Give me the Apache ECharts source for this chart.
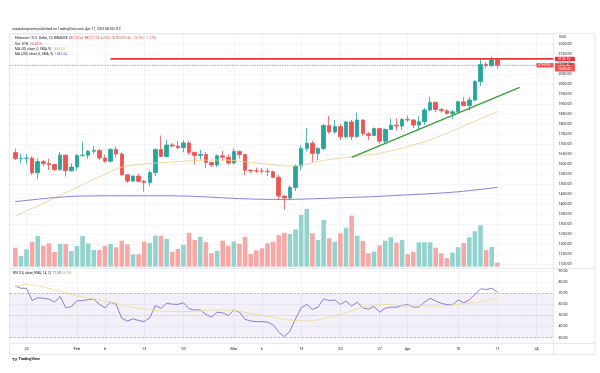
<!DOCTYPE html>
<html><head><meta charset="utf-8">
<script src="https://cdn.jsdelivr.net/npm/echarts@6/dist/echarts.min.js"></script>
<style>html,body{margin:0;padding:0;background:#fff}#c{width:600px;height:373px}</style>
</head><body><div id="c"></div>
<script>
// ---- categories (daily) ----
const dates = ['Jan 20','Jan 21','Jan 22','Jan 23','Jan 24','Jan 25','Jan 26','Jan 27','Jan 28','Jan 29','Jan 30','Jan 31',
'Feb 1','Feb 2','Feb 3','Feb 4','Feb 5','Feb 6','Feb 7','Feb 8','Feb 9','Feb 10','Feb 11','Feb 12','Feb 13','Feb 14','Feb 15','Feb 16','Feb 17','Feb 18','Feb 19','Feb 20','Feb 21','Feb 22','Feb 23','Feb 24','Feb 25','Feb 26','Feb 27','Feb 28',
'Mar 1','Mar 2','Mar 3','Mar 4','Mar 5','Mar 6','Mar 7','Mar 8','Mar 9','Mar 10','Mar 11','Mar 12','Mar 13','Mar 14','Mar 15','Mar 16','Mar 17','Mar 18','Mar 19','Mar 20','Mar 21','Mar 22','Mar 23','Mar 24','Mar 25','Mar 26','Mar 27','Mar 28','Mar 29','Mar 30','Mar 31',
'Apr 1','Apr 2','Apr 3','Apr 4','Apr 5','Apr 6','Apr 7','Apr 8','Apr 9','Apr 10','Apr 11','Apr 12','Apr 13','Apr 14','Apr 15','Apr 16','Apr 17','Apr 18','Apr 19','Apr 20','Apr 21','Apr 22','Apr 23','Apr 24','Apr 25','Apr 26','Apr 27'];
const firstDay = 'Jan 21';
const tickDates  = ['Jan 23','Feb 1','Feb 6','Feb 13','Feb 20','Mar 1','Mar 6','Mar 13','Mar 20','Mar 27','Apr 1','Apr 10','Apr 17','Apr 24'];
const tickLabels = ['23','Feb','6','13','20','Mar','6','13','20','27','Apr','10','17','24'];
const priceTicks = [1100,1150,1200,1250,1300,1350,1400,1450,1500,1550,1600,1650,1700,1750,1800,1850,1900,1950,2000,2050,2100,2150,2200];
const rsiTicks = [30,40,50,60,70,80,90];

// ---- OHLC (Jan 21 .. Apr 17) ----
const open = [1657,1627,1628,1629,1556,1612,1603,1598,1573,1644,
1566,1585,1642,1644,1664,1668,1630,1614,1673,1650,
1546,1515,1540,1514,1507,1557,1673,1638,1695,1690,
1681,1705,1658,1643,1648,1608,1595,1641,1634,1605,
1663,1647,1569,1566,1565,1564,1561,1534,1440,1430,
1482,1590,1678,1704,1653,1678,1792,1760,1787,1736,
1810,1737,1820,1751,1743,1777,1714,1773,1794,1790,
1822,1820,1795,1811,1870,1908,1873,1866,1853,1861,
1911,1892,1920,2012,2098,2092,2120.42];
const close = [1627,1628,1629,1556,1612,1603,1598,1573,1644,1566,
1585,1642,1644,1664,1668,1630,1614,1673,1650,1546,
1515,1540,1514,1507,1557,1673,1638,1695,1690,1681,
1705,1658,1643,1648,1608,1595,1641,1634,1605,1663,
1647,1569,1566,1565,1564,1561,1534,1440,1430,1482,
1590,1678,1704,1653,1678,1792,1760,1787,1736,1810,
1737,1820,1751,1743,1777,1714,1773,1794,1790,1822,
1820,1795,1811,1870,1908,1873,1866,1853,1861,1911,
1892,1920,2012,2098,2092,2120,2093.46];
const high = [1677,1650,1650,1638,1628,1620,1626,1600,1660,1648,
1604,1649,1712,1670,1690,1675,1646,1680,1688,1658,
1550,1543,1552,1520,1568,1678,1742,1720,1705,1716,
1718,1715,1662,1670,1659,1610,1647,1666,1648,1678,
1667,1650,1573,1582,1580,1580,1568,1546,1442,1495,
1598,1695,1780,1716,1685,1800,1840,1820,1800,1815,
1820,1857,1823,1760,1783,1782,1778,1828,1828,1830,
1842,1825,1840,1880,1937,1913,1880,1875,1870,1918,
1935,1935,2020,2125,2110,2137,2121];
const low = [1619,1603,1598,1546,1525,1589,1570,1565,1565,1537,
1562,1567,1637,1625,1650,1620,1606,1607,1632,1540,
1505,1509,1507,1462,1490,1540,1635,1633,1683,1675,
1658,1645,1597,1622,1578,1585,1585,1617,1597,1596,
1626,1545,1555,1555,1552,1540,1530,1420,1370,1418,
1465,1570,1662,1610,1620,1670,1752,1750,1720,1728,
1720,1730,1740,1720,1738,1703,1700,1770,1767,1770,
1810,1780,1768,1795,1863,1860,1856,1848,1826,1850,
1888,1868,1912,1990,2078,2085,2076.78];
const volume = [190,107,174,247,307,210,234,147,227,227,
157,207,307,234,167,167,207,227,194,260,
224,124,124,250,237,312,307,279,150,177,
219,339,267,299,245,135,160,260,209,252,
229,297,127,162,184,234,250,315,340,327,
374,517,577,334,267,467,284,250,334,390,
510,310,257,134,150,212,260,294,240,267,
124,147,244,244,244,190,134,87,140,194,
237,294,354,414,167,197,40];
const ma30 = [1340,1352,1365,1378,1390,1403,1416,1430,1443,1456,
1470,1483,1496,1510,1523,1536,1549,1562,1575,1585,
1590,1594,1597,1600,1602,1604,1606,1608,1610,1612,
1614,1616,1617,1618,1619,1620,1620,1620,1619,1617,
1614,1611,1608,1605,1602,1599,1596,1593,1590,1589,
1590,1594,1600,1606,1612,1618,1622,1626,1629,1632,
1636,1639,1642,1645,1649,1653,1659,1665,1672,1679,
1687,1695,1703,1711,1720,1731,1742,1753,1765,1778,
1790,1802,1814,1826,1838,1850,1862];
const ma200 = [1412,1415,1418,1421,1424,1427,1430,1432,1434,1436,
1438,1439,1440,1440,1440,1441,1441,1441,1441,1441,
1441,1441,1441,1441,1441,1441,1441,1441,1441,1440,
1440,1439,1438,1437,1436,1434,1432,1431,1430,1428,
1427,1426,1425,1424,1424,1423,1423,1423,1423,1423,
1424,1424,1425,1426,1427,1428,1429,1430,1431,1432,
1433,1434,1435,1436,1437,1438,1440,1441,1443,1444,
1446,1447,1449,1450,1452,1453,1455,1457,1459,1461,
1464,1467,1470,1473,1476,1480,1483];
const rsi = [76.5,74.5,74.5,63.5,66,65.5,64.8,62,67,57,
58,63.4,63.4,64.4,64.8,60,57,62,60,47.5,
45,47,45.5,44.5,48,59,56.5,61,60.2,60,
61.5,56,55,55,51,48.5,53,52.4,50,55,
53,46.5,45,44.5,44.4,44,41.5,35,31,36,
47,57,60,55.5,57.5,65,63.5,64,60,63,
58.5,62,57,55.6,58,53,56.5,57.5,57.4,59,
59.8,57.5,57.5,62,65.5,63,61,59.8,59.5,64,
61.5,64,69,74,73.5,74.5,71];
const rsiMa = [76.2,77.3,78.3,77.5,76.7,75.6,74.4,73.1,71.8,70.4,
69,67.6,66.7,65.8,64.9,64,63,62,61,59.6,
58.4,57.3,56.4,55.6,55,54.4,54,53.8,53.6,53.5,
53.5,53.5,53.7,54.1,54.6,55,55,55,55,54.6,
53.8,52.8,52,51,50.1,49.2,48.4,47.4,46.5,45.9,
45.5,45.2,45,45.4,46.1,47,48.2,49.8,51.2,52.5,
54.1,55.8,57.3,58.4,59.1,59.6,60,59.6,59.1,58.7,
58.6,58.6,58.6,58.6,58.6,58.6,58.6,58.9,59.4,60,
60.6,61.2,61.8,62.6,63.5,64.5,65.4];

// ---- drawings ----
const hLineLevel = 2125.13, hLineStart = 'Feb 7';
const trendStart = ['Mar 22', 1633], trendEnd = ['Apr 21', 1983];
const lastPrice = 2093.46;

const UP = '#26a69a', DN = '#ef5350';
const F = 'Roboto';
const off = dates.indexOf(firstDay);
const isTick = (i, v) => tickDates.indexOf(v) >= 0;

const chart = echarts.init(document.getElementById('c'), null, {renderer: 'canvas'});
const L = 9.7, R = 46.6;
const xBase = (g, showLbl) => ({
  type: 'category', gridIndex: g, data: dates, boundaryGap: false,
  axisLine: {show: false}, axisTick: {show: false},
  axisLabel: showLbl ? {show: true, interval: isTick, fontSize: 3.8, fontFamily: F, color: '#131722', margin: 4,
    formatter: v => tickLabels[tickDates.indexOf(v)]} : {show: false},
  splitLine: {show: g !== 1, interval: isTick, lineStyle: {color: '#eef1f7', width: 0.8}}
});

const option = {
  animation: false,
  backgroundColor: '#ffffff',
  grid: [
    {left: L, right: R, top: 34, height: 230},
    {left: L, right: R, top: 196.7, height: 70},
    {left: L, right: R, top: 269, height: 74}
  ],
  xAxis: [xBase(0, false), xBase(1, false), xBase(2, true)],
  yAxis: [
    {type: 'value', gridIndex: 0, position: 'right', min: 1100, max: 2250, interval: 50,
     axisLine: {show: false}, axisTick: {show: false},
     axisLabel: {fontSize: 3.6, fontFamily: F, color: '#131722', margin: 5, showMaxLabel: false,
       formatter: v => priceTicks.indexOf(v) >= 0 ? v.toFixed(2) : ''},
     splitLine: {lineStyle: {color: '#f0f3fa', width: 0.8}}},
    {type: 'value', gridIndex: 1, min: 0, max: 700, show: false, splitLine: {show: false}},
    {type: 'value', gridIndex: 2, position: 'right', min: 25.2, max: 91.9,
     axisLine: {show: false},
     axisTick: {show: false, customValues: rsiTicks},
     axisLabel: {fontSize: 3.6, fontFamily: F, color: '#131722', margin: 5, customValues: rsiTicks,
       formatter: v => (+v).toFixed(2)},
     splitLine: {lineStyle: {color: '#f0f3fa', width: 0.8}}}
  ],
  series: [
    {type: 'bar', xAxisIndex: 1, yAxisIndex: 1, barWidth: '82%', silent: true,
     data: volume.map((v, i) => ({value: [i + off, v],
       itemStyle: {color: close[i] >= open[i] ? '#93d3cd' : '#f6a8a6'}}))},
    {type: 'line', xAxisIndex: 0, yAxisIndex: 0, showSymbol: false, silent: true,
     lineStyle: {color: '#f2d38e', width: 0.9}, data: ma30.map((v, i) => [i + off, v])},
    {type: 'line', xAxisIndex: 0, yAxisIndex: 0, showSymbol: false, silent: true,
     lineStyle: {color: '#7d6fe0', width: 0.9}, data: ma200.map((v, i) => [i + off, v])},
    {type: 'candlestick', xAxisIndex: 0, yAxisIndex: 0, barWidth: '72%',
     encode: {x: 0, y: [1, 2, 3, 4]},
     itemStyle: {color: UP, color0: DN, borderColor: UP, borderColor0: DN, borderWidth: 0.8},
     data: open.map((o, i) => [i + off, o, close[i], low[i], high[i]]),
     markLine: {silent: true, symbol: ['none', 'none'], label: {show: false},
       lineStyle: {color: DN, type: [1, 1.5], width: 0.8}, data: [{yAxis: lastPrice}]}},
    {type: 'line', xAxisIndex: 0, yAxisIndex: 0, showSymbol: false, silent: true,
     lineStyle: {color: '#e8333b', width: 1.8},
     data: [[dates.indexOf(hLineStart), hLineLevel], [dates.length - 1, hLineLevel]]},
    {type: 'line', xAxisIndex: 0, yAxisIndex: 0, showSymbol: false, silent: true,
     lineStyle: {color: '#3f9c3a', width: 1.5},
     data: [[dates.indexOf(trendStart[0]), trendStart[1]], [dates.indexOf(trendEnd[0]), trendEnd[1]]]},
    {type: 'line', xAxisIndex: 2, yAxisIndex: 2, showSymbol: false, silent: true,
     lineStyle: {color: '#7e6fc9', width: 0.9}, data: rsi.map((v, i) => [i + off, v]),
     markArea: {silent: true, itemStyle: {color: 'rgba(126,87,194,0.09)'}, data: [[{yAxis: 30}, {yAxis: 70}]]},
     markLine: {silent: true, symbol: ['none', 'none'], label: {show: false},
       lineStyle: {color: '#9598a1', type: [2, 2], width: 0.6},
       data: [{yAxis: 70}, {yAxis: 50, lineStyle: {type: [1, 2], color: '#b2b5be'}}, {yAxis: 30}]}},
    {type: 'line', xAxisIndex: 2, yAxisIndex: 2, showSymbol: false, silent: true,
     lineStyle: {color: '#f3dc95', width: 0.9}, data: rsiMa.map((v, i) => [i + off, v])}
  ]
};
chart.setOption(option);

// ---- overlay texts / boxes ----
const yP = v => chart.convertToPixel({yAxisIndex: 0}, v);
const txt = (x, y, text, size, fill, extra) => Object.assign({type: 'text', x: x, y: y, silent: true,
  style: Object.assign({text: text, fontSize: size, fontFamily: F, fill: fill, align: 'left', verticalAlign: 'middle'}, extra || {})});
const rich = {r: {fill: DN, fontSize: 3.3, fontFamily: F}, y: {fill: '#e0a82e', fontSize: 3.3, fontFamily: F}, b: {fill: '#5b5fd6', fontSize: 3.3, fontFamily: F},
  p: {fill: '#7e57c2', fontSize: 3.3, fontFamily: F}};
const priceAxisX = 600 - R;
const yH = yP(hLineLevel), yC = yP(lastPrice);
const graphics = [
  {type: 'rect', silent: true, shape: {x: 9.5, y: 33.5, width: 585.5, height: 321}, style: {fill: 'none', stroke: '#e0e3eb', lineWidth: 0.8}},
  {type: 'line', silent: true, shape: {x1: 9.5, y1: 268.5, x2: 595, y2: 268.5}, style: {stroke: '#e0e3eb', lineWidth: 0.8}},
  {type: 'line', silent: true, shape: {x1: 9.5, y1: 343.5, x2: 595, y2: 343.5}, style: {stroke: '#e0e3eb', lineWidth: 0.8}},
  {type: 'line', silent: true, shape: {x1: priceAxisX, y1: 33.5, x2: priceAxisX, y2: 354.5}, style: {stroke: '#e0e3eb', lineWidth: 0.8}},
  txt(12, 29, 'sssatalonyname published on TradingView.com, Apr 17, 2023 08:50 UTC', 3.4, '#131722'),
  txt(15, 38.3, 'Ethereum / U.S. Dollar, 1D, BINANCE  O{r|2120.42}  H{r|2121.00}  L{r|2076.78}  C{r|2093.46}  {r|\u221226.96 (\u22121.27%)}', 3.3, '#131722', {rich: rich}),
  txt(15, 44, 'Vol \u00b7 ETH  {r|38.481K}', 3.3, '#131722', {rich: rich}),
  txt(15, 49, 'MA (30, close, 0, SMA, 9)  {y|1861.63}', 3.3, '#131722', {rich: rich}),
  txt(15, 54, 'MA (200, close, 0, SMA, 9)  {b|1483.34}', 3.3, '#131722', {rich: rich}),
  txt(13, 273.5, 'RSI (14, close, EMA, 14, 2)  {p|71.08}  {y|65.58}', 3.3, '#131722', {rich: rich}),
  txt(559, 37.5, 'USD', 3.6, '#131722'),
  {type: 'rect', silent: true, shape: {x: priceAxisX + 1.5, y: yH - 2.3, width: 20, height: 4.6, r: 0.8}, style: {fill: '#e8333b'}},
  txt(priceAxisX + 4.5, yH, hLineLevel.toFixed(2), 3.4, '#ffffff'),
  {type: 'rect', silent: true, shape: {x: priceAxisX + 1.5, y: yC - 2.3, width: 20, height: 8.6, r: 0.8}, style: {fill: DN}},
  txt(priceAxisX + 4.5, yC, lastPrice.toFixed(2), 3.4, '#ffffff'),
  txt(priceAxisX + 4.5, yC + 4, '15:09:47', 3.4, '#ffffff'),
  {type: 'rect', silent: true, shape: {x: priceAxisX - 17, y: yC - 2.3, width: 17, height: 4.6, r: 0.8}, style: {fill: DN}},
  txt(priceAxisX - 15, yC, 'ETHUSD', 3.2, '#ffffff'),
  txt(12, 359.5, 'TV', 4, '#131722', {fontWeight: 'bold'}),
  txt(18.5, 359.5, 'TradingView', 3.8, '#131722', {fontWeight: 'bold'})
];
chart.setOption({graphic: graphics});
</script>
</body></html>
